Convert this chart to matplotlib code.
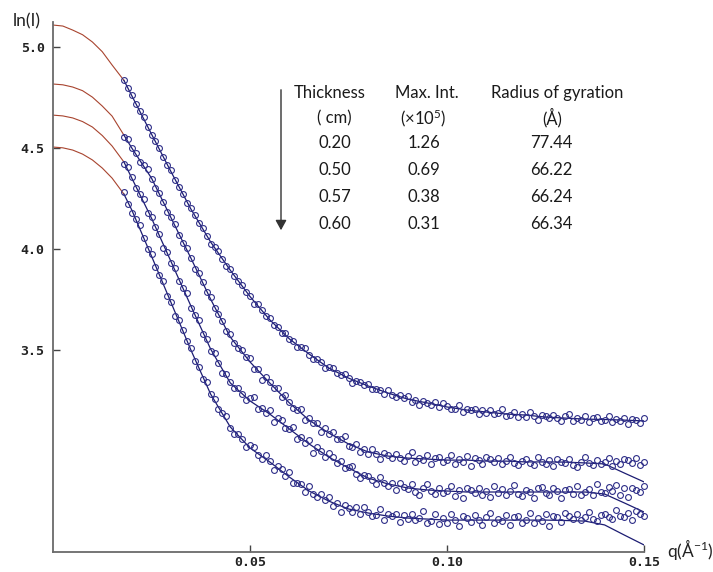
import numpy as np
import matplotlib
matplotlib.use("Agg")
import matplotlib.pyplot as plt

plt.rcParams['mathtext.fontset'] = 'custom'
plt.rcParams['mathtext.rm'] = 'Lato'
plt.rcParams['mathtext.it'] = 'Lato:italic'
plt.rcParams['mathtext.bf'] = 'Lato:bold'

# ---------------- data ----------------
# fitted (model) curves: q grid of the fit lines
q_fit = [0.000, 0.0025, 0.005, 0.0075, 0.010, 0.0125, 0.015, 0.018,
         0.020, 0.025, 0.030, 0.035, 0.040,
         0.045, 0.050, 0.055, 0.060, 0.065, 0.070, 0.075, 0.080, 0.085, 0.090,
         0.095, 0.100, 0.105, 0.110, 0.115, 0.120, 0.125, 0.130, 0.135, 0.140,
         0.145, 0.150]
fit_020 = [5.109, 5.104, 5.084, 5.061, 5.025, 4.977, 4.911, 4.835,
           4.759, 4.569, 4.381, 4.198, 4.035,
           3.895, 3.765, 3.650, 3.555, 3.480, 3.411, 3.361, 3.322, 3.287, 3.257,
           3.238, 3.218, 3.203, 3.193, 3.183, 3.178, 3.168, 3.163, 3.158, 3.156,
           3.153, 3.149]
fit_050 = [4.817, 4.813, 4.802, 4.784, 4.752, 4.708, 4.658, 4.564,
           4.500, 4.351, 4.153, 3.955, 3.752,
           3.564, 3.441, 3.337, 3.238, 3.153, 3.089, 3.035, 2.995, 2.975, 2.965,
           2.960, 2.955, 2.955, 2.950, 2.950, 2.946, 2.946, 2.945, 2.941, 2.936,
           2.891, 2.847]
fit_057 = [4.663, 4.659, 4.649, 4.631, 4.604, 4.562, 4.510, 4.431,
           4.351, 4.153, 3.936, 3.718, 3.505,
           3.337, 3.248, 3.183, 3.109, 3.035, 2.970, 2.916, 2.866, 2.837, 2.817,
           2.807, 2.802, 2.797, 2.797, 2.797, 2.797, 2.797, 2.797, 2.797, 2.787,
           2.743, 2.698]
fit_060 = [4.505, 4.501, 4.490, 4.470, 4.441, 4.401, 4.351, 4.272,
           4.193, 3.965, 3.733, 3.500, 3.282,
           3.119, 3.015, 2.946, 2.871, 2.802, 2.752, 2.713, 2.693, 2.678, 2.668,
           2.663, 2.658, 2.658, 2.658, 2.658, 2.658, 2.658, 2.656, 2.653, 2.634,
           2.584, 2.535]
n_guinier = 8   # first points of each fit (drawn in red, before the data start)

# measured points: q from 0.018 to 0.150 (step 0.001)
q_data = np.linspace(0.018, 0.150, 133)
data_020 = [
 4.838, 4.795, 4.764, 4.717, 4.684, 4.652, 4.604, 4.563, 4.533, 4.498,
 4.455, 4.414, 4.389, 4.344, 4.305, 4.274, 4.228, 4.203, 4.166, 4.131,
 4.106, 4.064, 4.027, 4.009, 3.988, 3.950, 3.918, 3.899, 3.866, 3.843,
 3.824, 3.785, 3.768, 3.728, 3.727, 3.700, 3.670, 3.659, 3.625, 3.614,
 3.582, 3.586, 3.553, 3.546, 3.517, 3.513, 3.510, 3.475, 3.457, 3.456,
 3.439, 3.413, 3.418, 3.411, 3.388, 3.375, 3.380, 3.362, 3.339, 3.349,
 3.344, 3.325, 3.334, 3.307, 3.308, 3.304, 3.283, 3.300, 3.278, 3.269,
 3.276, 3.261, 3.271, 3.241, 3.255, 3.226, 3.250, 3.240, 3.228, 3.242,
 3.216, 3.238, 3.222, 3.207, 3.210, 3.227, 3.192, 3.209, 3.201, 3.209,
 3.181, 3.203, 3.189, 3.203, 3.183, 3.189, 3.207, 3.173, 3.178, 3.195,
 3.168, 3.185, 3.170, 3.192, 3.174, 3.154, 3.180, 3.172, 3.161, 3.178,
 3.163, 3.150, 3.171, 3.182, 3.151, 3.162, 3.155, 3.172, 3.142, 3.163,
 3.167, 3.148, 3.156, 3.173, 3.143, 3.158, 3.148, 3.165, 3.132, 3.159,
 3.153, 3.140, 3.163]
data_050 = [
 4.554, 4.544, 4.499, 4.476, 4.433, 4.414, 4.396, 4.347, 4.302, 4.277,
 4.232, 4.181, 4.161, 4.124, 4.071, 4.028, 4.004, 3.957, 3.901, 3.879,
 3.839, 3.789, 3.764, 3.707, 3.677, 3.642, 3.592, 3.578, 3.536, 3.509,
 3.498, 3.465, 3.459, 3.405, 3.407, 3.354, 3.368, 3.340, 3.310, 3.312,
 3.266, 3.278, 3.243, 3.211, 3.202, 3.210, 3.153, 3.161, 3.140, 3.140,
 3.095, 3.112, 3.084, 3.093, 3.060, 3.060, 3.074, 3.023, 3.022, 3.037,
 2.996, 3.011, 2.985, 3.011, 2.987, 2.961, 2.992, 2.980, 2.966, 2.986,
 2.967, 2.950, 2.977, 2.994, 2.948, 2.965, 2.955, 2.981, 2.935, 2.967,
 2.972, 2.944, 2.955, 2.982, 2.937, 2.961, 2.946, 2.973, 2.924, 2.965,
 2.955, 2.936, 2.971, 2.959, 2.944, 2.965, 2.938, 2.953, 2.970, 2.939,
 2.930, 2.953, 2.958, 2.943, 2.931, 2.970, 2.946, 2.937, 2.955, 2.924,
 2.960, 2.948, 2.939, 2.962, 2.932, 2.919, 2.948, 2.968, 2.942, 2.930,
 2.957, 2.936, 2.945, 2.966, 2.927, 2.951, 2.935, 2.960, 2.954, 2.939,
 2.963, 2.933, 2.948]
data_057 = [
 4.421, 4.407, 4.355, 4.303, 4.270, 4.250, 4.179, 4.159, 4.110, 4.076,
 4.007, 3.987, 3.932, 3.904, 3.843, 3.807, 3.784, 3.708, 3.671, 3.647,
 3.578, 3.554, 3.497, 3.487, 3.438, 3.386, 3.381, 3.341, 3.313, 3.313,
 3.282, 3.252, 3.260, 3.265, 3.207, 3.212, 3.190, 3.204, 3.144, 3.162,
 3.154, 3.112, 3.109, 3.121, 3.061, 3.071, 3.041, 3.053, 2.992, 3.021,
 2.999, 2.968, 2.991, 2.968, 2.942, 2.953, 2.915, 2.919, 2.927, 2.887,
 2.868, 2.882, 2.878, 2.857, 2.839, 2.873, 2.843, 2.828, 2.842, 2.808,
 2.840, 2.824, 2.810, 2.836, 2.799, 2.783, 2.816, 2.839, 2.803, 2.788,
 2.818, 2.793, 2.802, 2.826, 2.779, 2.806, 2.767, 2.815, 2.808, 2.790,
 2.818, 2.783, 2.801, 2.773, 2.825, 2.794, 2.811, 2.780, 2.804, 2.832,
 2.787, 2.776, 2.808, 2.797, 2.769, 2.815, 2.822, 2.790, 2.783, 2.818,
 2.801, 2.766, 2.808, 2.811, 2.787, 2.825, 2.780, 2.797, 2.812, 2.781,
 2.837, 2.798, 2.791, 2.823, 2.802, 2.830, 2.784, 2.816, 2.770, 2.819,
 2.809, 2.795, 2.826]
data_060 = [
 4.284, 4.225, 4.177, 4.151, 4.120, 4.054, 4.001, 3.973, 3.913, 3.872,
 3.840, 3.767, 3.737, 3.668, 3.650, 3.599, 3.543, 3.512, 3.448, 3.415,
 3.355, 3.342, 3.280, 3.257, 3.207, 3.188, 3.172, 3.113, 3.086, 3.083,
 3.057, 3.020, 3.030, 3.022, 2.981, 2.962, 2.978, 2.949, 2.904, 2.925,
 2.913, 2.877, 2.895, 2.842, 2.843, 2.836, 2.795, 2.829, 2.786, 2.770,
 2.787, 2.759, 2.773, 2.726, 2.745, 2.699, 2.733, 2.716, 2.700, 2.723,
 2.686, 2.721, 2.699, 2.678, 2.684, 2.711, 2.660, 2.687, 2.676, 2.689,
 2.648, 2.682, 2.661, 2.688, 2.656, 2.669, 2.703, 2.646, 2.655, 2.686,
 2.639, 2.670, 2.644, 2.688, 2.660, 2.629, 2.678, 2.667, 2.650, 2.681,
 2.657, 2.636, 2.674, 2.695, 2.643, 2.664, 2.653, 2.685, 2.632, 2.671,
 2.678, 2.646, 2.660, 2.695, 2.642, 2.670, 2.653, 2.686, 2.630, 2.679,
 2.671, 2.650, 2.693, 2.679, 2.662, 2.688, 2.656, 2.675, 2.697, 2.663,
 2.653, 2.682, 2.690, 2.674, 2.661, 2.707, 2.680, 2.671, 2.693, 2.659,
 2.702, 2.689, 2.679]

# table
table_header = ["Thickness", "Max. Int.", "Radius of gyration"]
table_units = ["( cm)", "(×10$^{5}$)", "(Å)"]
thickness = ["0.20", "0.50", "0.57", "0.60"]
max_int = ["1.26", "0.69", "0.38", "0.31"]
radius_gyration = ["77.44", "66.22", "66.24", "66.34"]

x_ticks = [0.05, 0.10, 0.15]
x_ticklabels = ["0.05", "0.10", "0.15"]
y_ticks = [3.5, 4.0, 4.5, 5.0]
y_ticklabels = ["3.5", "4.0", "4.5", "5.0"]

# ---------------- figure ----------------
W, H = 713, 572
fig = plt.figure(figsize=(W / 100, H / 100), dpi=100)
fig.patch.set_facecolor('white')

def px(x, y):
    return x / W, 1 - y / H

ax = fig.add_axes([53 / W, 20 / H, 591 / W, 530 / H])
ax.set_xlim(0, 0.15)
ax.set_ylim(2.5, 5.124)

red = '#a8442f'
navy = '#1c1c72'
mk = '#2e2e88'

fits = [fit_020, fit_050, fit_057, fit_060]
datas = [data_020, data_050, data_057, data_060]
for f, d in zip(fits, datas):
    ax.plot(q_fit[:n_guinier], f[:n_guinier], color=red, lw=0.8, zorder=2)
    ax.plot(q_fit[n_guinier - 1:], f[n_guinier - 1:], color=navy, lw=0.9, zorder=3)
    ax.plot(q_data, d, linestyle='none', marker='o', markersize=4.2,
            markerfacecolor='none', markeredgecolor=mk, markeredgewidth=0.8,
            zorder=4, clip_on=False)

for s in ['top', 'right']:
    ax.spines[s].set_visible(False)
for s in ['left', 'bottom']:
    ax.spines[s].set_color('#6a6a6a')
    ax.spines[s].set_linewidth(1.3)

ax.set_xticks(x_ticks)
ax.set_xticklabels(x_ticklabels)
ax.set_yticks(y_ticks)
ax.set_yticklabels(y_ticklabels)
ax.tick_params(direction='in', length=5, width=1, color='#444444')
ax.tick_params(axis='x', pad=3)
ax.tick_params(axis='y', pad=6)
for lab in ax.get_xticklabels() + ax.get_yticklabels():
    lab.set_fontfamily('DejaVu Sans Mono')
    lab.set_fontweight('bold')
    lab.set_fontsize(9.5)
    lab.set_color('#222222')

# axis labels
fig.text(*px(13, 21), "ln(I)", family='Lato', fontsize=12.5, ha='left', va='center', color='#222222')
fig.text(*px(667, 549), "q(Å$^{-1}$)", family='Lato', fontsize=12.5, ha='left', va='center', color='#222222')

# table
tf = dict(family='Lato', fontsize=12, ha='center', va='center', color='#1a1a1a')
head_x = [330, 427, 557]
unit_x = [334, 423, 552]
val_x = [335, 424, 551]
for hx, t in zip(head_x, table_header):
    fig.text(*px(hx, 93), t, **tf)
for ux, t in zip(unit_x, table_units):
    fig.text(*px(ux, 118), t, **tf)
row_y = [143, 170, 197, 224]
for cx, col in zip(val_x, [thickness, max_int, radius_gyration]):
    for ry, v in zip(row_y, col):
        fig.text(*px(cx, ry), v, **tf)

# arrow
fig.add_artist(matplotlib.patches.FancyArrowPatch(
    px(281, 87), px(281, 233), transform=fig.transFigure,
    arrowstyle='-|>,head_length=4,head_width=2.2', color='#333333', lw=1.0,
    mutation_scale=1.5))

fig.savefig('out.png', dpi=100, facecolor='white')
